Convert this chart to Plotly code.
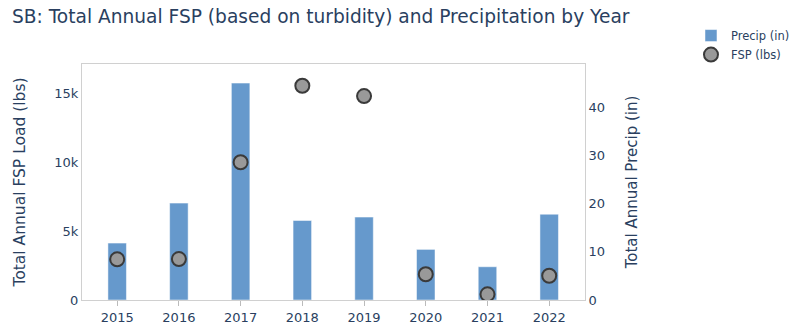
import plotly.graph_objects as go

# Annual totals for site SB
years = [2015, 2016, 2017, 2018, 2019, 2020, 2021, 2022]
precip_in = [11.8, 20.1, 45.0, 16.5, 17.2, 10.5, 6.9, 17.8]
fsp_lbs = [2950, 2970, 10000, 15550, 14800, 1870, 410, 1760]

text_color = "#2a3f5f"
axis_line = "#d0d0d0"
font_family = "DejaVu Sans"

fig = go.Figure()

# Precipitation bars sit on the right-hand axis (drawn first, underneath)
fig.add_trace(go.Bar(
    x=years,
    y=precip_in,
    name="Precip (in)",
    yaxis="y",
    width=0.3,
    marker=dict(color="#6699cc", line=dict(color="white", width=0.5)),
))

# FSP loads as markers on the left-hand overlay axis (drawn on top)
fig.add_trace(go.Scatter(
    x=years,
    y=fsp_lbs,
    name="FSP (lbs)",
    yaxis="y2",
    mode="markers",
    marker=dict(size=14, color="#999999", line=dict(color="#3a3a3a", width=2)),
))

fig.update_layout(
    template="plotly_white",
    width=796,
    height=326,
    margin=dict(l=82, r=211, t=64, b=26, autoexpand=False),
    font=dict(family=font_family, size=13, color=text_color),
    title=dict(
        text="SB: Total Annual FSP (based on turbidity) and Precipitation by Year",
        x=0.015, xanchor="left", y=0.948, yanchor="middle",
        font=dict(family=font_family, size=18.6, color=text_color),
    ),
    xaxis=dict(
        range=[2014.43, 2022.58],
        tickmode="array",
        tickvals=years,
        ticktext=[str(y) for y in years],
        showgrid=False,
        zeroline=False,
        showline=True,
        mirror=True,
        linecolor=axis_line,
        linewidth=1,
        ticks="outside",
        ticklen=5,
        tickcolor="#bbbbbb",
        automargin=False,
    ),
    yaxis=dict(
        title=dict(text="Total Annual Precip (in)", standoff=22,
                   font=dict(family=font_family, size=15, color=text_color)),
        side="right",
        range=[0, 48.96],
        tickvals=[0, 10, 20, 30, 40],
        showgrid=False,
        zeroline=False,
        showline=True,
        linecolor=axis_line,
        linewidth=1,
        automargin=False,
    ),
    yaxis2=dict(
        title=dict(text="Total Annual FSP Load (lbs)", standoff=24,
                   font=dict(family=font_family, size=15.5, color=text_color)),
        overlaying="y",
        side="left",
        range=[0, 17130],
        tickvals=[0, 5000, 10000, 15000],
        ticktext=["0", "5k", "10k", "15k"],
        showgrid=False,
        zeroline=False,
        showline=True,
        linecolor=axis_line,
        linewidth=1,
        automargin=False,
    ),
    legend=dict(
        x=1.2107, xanchor="left",
        y=1.182, yanchor="top",
        font=dict(family=font_family, size=11.5, color=text_color),
        bgcolor="rgba(0,0,0,0)",
        traceorder="normal",
    ),
    showlegend=True,
    plot_bgcolor="white",
    paper_bgcolor="white",
)

fig.write_html("out.html")
